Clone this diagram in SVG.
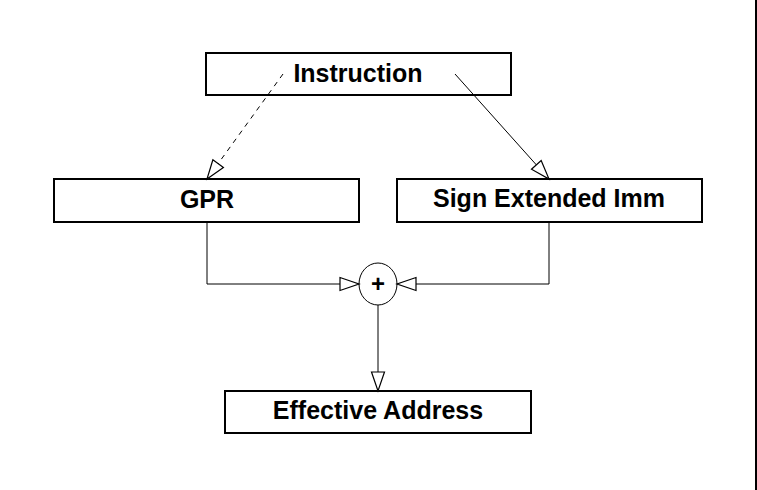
<svg xmlns="http://www.w3.org/2000/svg" width="757" height="490" viewBox="0 0 757 490">
<style>
.box{fill:#fff;stroke:#000;stroke-width:2}
.lbl{font-family:"Liberation Sans",Arial,sans-serif;font-weight:bold;font-size:25px;fill:#000;text-anchor:middle}
.ln{fill:none;stroke:#000;stroke-width:1}
</style>
<defs>
<marker id="arr" markerUnits="userSpaceOnUse" markerWidth="24" markerHeight="16" viewBox="-1 -8 22 16" refX="19" refY="0" orient="auto">
<path d="M0,-6.5 L19,0 L0,6.5 Z" fill="#fff" stroke="#000" stroke-width="1.2"/>
</marker>
</defs>
<rect x="0" y="0" width="757" height="490" fill="#fff"/>
<line x1="756" y1="0" x2="756" y2="490" stroke="#000" stroke-width="2"/>
<g id="instruction">
<rect class="box" x="206" y="53" width="305" height="42"/>
<text class="lbl" x="358" y="82">Instruction</text>
</g>
<g id="gpr">
<rect class="box" x="54" y="179" width="305" height="43"/>
<text class="lbl" x="207" y="208">GPR</text>
</g>
<g id="signext">
<rect class="box" x="397" y="179" width="305" height="43"/>
<text class="lbl" x="549" y="207">Sign Extended Imm</text>
</g>
<g id="adder">
<ellipse cx="378" cy="284" rx="19" ry="21" fill="#fff" stroke="#000" stroke-width="1"/>
<text x="378" y="292" font-family="Liberation Sans,Arial,sans-serif" font-weight="bold" font-size="24" text-anchor="middle">+</text>
</g>
<g id="effaddr">
<rect class="box" x="225" y="391" width="306" height="42"/>
<text class="lbl" x="378" y="419">Effective Address</text>
</g>
<g id="connectors">
<line class="ln" x1="283" y1="74" x2="207" y2="179" stroke-dasharray="5,5" marker-end="url(#arr)"/>
<line class="ln" x1="455" y1="74" x2="549" y2="179" marker-end="url(#arr)"/>
<polyline class="ln" points="207,222 207,284 359,284" marker-end="url(#arr)"/>
<polyline class="ln" points="549,222 549,284 397,284" marker-end="url(#arr)"/>
<line class="ln" x1="378" y1="305" x2="378" y2="391" marker-end="url(#arr)"/>
</g>
</svg>
